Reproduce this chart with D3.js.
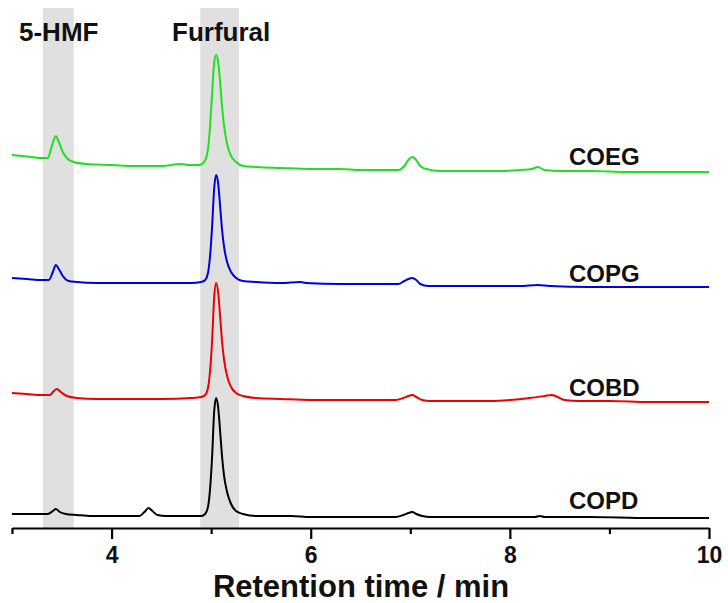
<!DOCTYPE html>
<html><head><meta charset="utf-8">
<script src="https://cdn.jsdelivr.net/npm/d3@7"></script>
<style>body{margin:0;background:#fff}svg{display:block}text{font-family:"Liberation Sans",Arial,sans-serif;font-weight:bold}</style>
</head><body>
<svg id="c" width="728" height="603"></svg>
<script>
// ---- data (intensity in arbitrary units, traces already offset) ----
const seriesNames = ["COEG","COPG","COBD","COPD"];
const seriesColors = ["#1fe01f","#0000e0","#ee0000","#000000"];
const timeCOEG = [3.00,3.10,3.20,3.30,3.36,3.40,3.44,3.47,3.51,3.56,3.62,3.75,4.00,4.25,4.50,4.70,4.78,4.88,4.92,4.95,4.97,4.99,5.01,5.03,5.05,5.07,5.09,5.11,5.13,5.16,5.20,5.25,5.32,5.45,5.70,6.00,6.30,6.50,6.70,6.88,6.94,6.98,7.02,7.06,7.10,7.16,7.30,7.60,7.90,8.10,8.22,8.28,8.35,8.50,8.80,9.20,9.60,10.00];
const valCOEG  = [373,372,371,370,370,382,392,386,376,369,366,364,363,362,362,364,363,363,365,370,380,403,435,465,473,466,446,421,402,384,372,366,362,361,360,359,359,358,358,358,362,368,371,368,362,359,357,357,357,358,359,361,358,357,357,356,356,356];
const timeCOPG = [3.00,3.15,3.30,3.37,3.41,3.44,3.47,3.51,3.57,3.65,3.85,4.20,4.50,4.80,4.90,4.94,4.97,4.99,5.01,5.03,5.05,5.07,5.09,5.11,5.13,5.16,5.20,5.25,5.32,5.45,5.70,5.90,5.95,6.30,6.60,6.88,6.94,6.98,7.02,7.06,7.10,7.18,7.40,7.80,8.10,8.28,8.40,8.80,9.20,9.60,10.00];
const valCOPG  = [250,249,248,248,256,263,259,252,247,246,245,245,245,245,246,248,256,273,302,339,353,345,322,298,281,266,256,250,247,246,245,246,245,244,244,244,247,249,250,248,244,242,242,242,242,243,242,241,241,241,241];
const timeCOBD = [3.00,3.15,3.30,3.38,3.42,3.45,3.49,3.55,3.65,3.85,4.20,4.50,4.80,4.90,4.94,4.97,4.99,5.01,5.03,5.05,5.07,5.09,5.11,5.13,5.16,5.20,5.25,5.32,5.45,5.70,6.00,6.40,6.85,6.93,6.98,7.02,7.06,7.12,7.20,7.50,7.80,8.00,8.20,8.35,8.42,8.48,8.55,8.70,9.00,9.40,9.80,10.00];
const valCOBD  = [135,134,133,133,137,139,136,132,130,129,129,129,130,131,133,141,158,188,230,245,236,212,186,168,152,141,135,132,130,129,128,128,128,130,132,133,131,128,127,127,127,128,130,132,133,131,128,127,127,126,126,126];
const timeCOPD = [3.00,3.20,3.36,3.41,3.44,3.48,3.54,3.65,3.80,4.10,4.28,4.33,4.37,4.41,4.46,4.55,4.80,4.90,4.94,4.97,4.99,5.01,5.03,5.05,5.07,5.09,5.11,5.13,5.16,5.20,5.25,5.32,5.45,5.80,6.00,6.50,6.85,6.93,6.98,7.02,7.06,7.12,7.20,7.60,8.00,8.25,8.30,8.35,8.80,9.40,10.00];
const valCOPD  = [14,14,14,17,19,16,14,13,12,12,12,16,20,17,13,12,12,12,14,22,40,72,116,130,121,97,71,52,36,24,17,14,12,12,11,11,11,13,15,16,14,12,11,11,11,11,12,11,11,10,10];
const seriesTimes = [timeCOEG,timeCOPG,timeCOBD,timeCOPD];
const seriesValues = [valCOEG,valCOPG,valCOBD,valCOPD];
const bandNames = ["5-HMF","Furfural"];
const bandStart = [3.31,4.89];
const bandEnd = [3.62,5.28];
const tickValues = [3,4,5,6,7,8,9,10];
const tickLabels = ["","4","","6","","8","","10"];
const xTitle = "Retention time / min";

// ---- layout ----
const svg = d3.select("#c");
const x = d3.scaleLinear().domain([3,10]).range([12,709]);
const y = d3.scaleLinear().domain([0,520]).range([528,8]);

// bands
svg.append("g").selectAll("rect").data(bandNames).join("rect")
  .attr("x",(d,i)=>x(bandStart[i])).attr("width",(d,i)=>x(bandEnd[i])-x(bandStart[i]))
  .attr("y",y(520)).attr("height",y(0)-y(520)).attr("fill","#e0e0e0");

// band labels
const bandLabelX = [19,172];
svg.append("g").selectAll("text").data(bandNames).join("text")
  .attr("x",(d,i)=>bandLabelX[i]).attr("y",41).attr("font-size",26).attr("fill","#111").text(d=>d);

// traces
const line = d3.line().x(d=>x(d[0])).y(d=>y(d[1])).curve(d3.curveMonotoneX);
seriesNames.forEach((n,i)=>{
  const pts = seriesTimes[i].map((t,j)=>[t,seriesValues[i][j]]);
  svg.append("path").datum(pts).attr("d",line).attr("fill","none")
    .attr("stroke",seriesColors[i]).attr("stroke-width",2).attr("stroke-linejoin","round");
});

// series labels
const labelY = [165,282,396,509];
svg.append("g").selectAll("text").data(seriesNames).join("text")
  .attr("x",569).attr("y",(d,i)=>labelY[i]).attr("font-size",24).attr("fill","#111").text(d=>d);

// x axis
const axis = d3.axisBottom(x).tickValues(tickValues).tickFormat((d,i)=>tickLabels[i])
  .tickSizeOuter(0).tickSizeInner(11).tickPadding(8);
const gx = svg.append("g").attr("transform","translate(0,528)").call(axis);
gx.select(".domain").attr("stroke","#000").attr("stroke-width",2.2);
gx.selectAll(".tick line").attr("stroke","#000").attr("stroke-width",2.2)
  .attr("y2",(d,i)=>tickLabels[i]===""?6:11);
gx.selectAll(".tick text").attr("font-size",23).attr("fill","#111")
  .attr("font-family","'Liberation Sans',Arial,sans-serif").attr("font-weight","bold");

svg.append("text").attr("x",361).attr("y",597).attr("text-anchor","middle")
  .attr("font-size",31).attr("fill","#111").text(xTitle);
</script>
</body></html>
